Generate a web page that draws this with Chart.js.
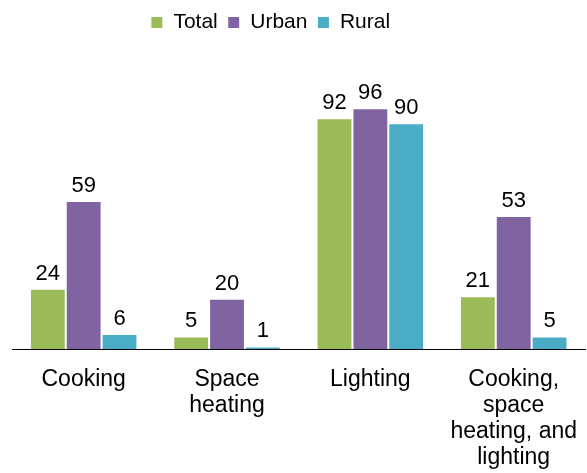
<!DOCTYPE html>
<html>
<head>
<meta charset="utf-8">
<script src="https://cdn.jsdelivr.net/npm/chart.js@4"></script>
<style>
  html, body { margin: 0; padding: 0; background: #fff; }
  #wrap { width: 587px; height: 473px; }
</style>
</head>
<body>
<div id="wrap"><canvas id="chart"></canvas></div>
<script>
// categories (multi-line tick labels)
const categorias = [
  ['Cooking'],
  ['Space', 'heating'],
  ['Lighting'],
  ['Cooking,', 'space', 'heating, and', 'lighting']
];

// series values (%)
const valoresTotal = [24, 5, 92, 21];
const valoresUrban = [59, 20, 96, 53];
const valoresRural = [6, 1, 90, 5];

const corTotal = '#9BBB59';
const corUrban = '#8064A2';
const corRural = '#4BACC6';

const fonte = "'Liberation Sans', Arial, sans-serif";

// value labels above each bar
const pluginRotulos = {
  id: 'rotulos',
  afterDatasetsDraw: (chart) => {
    const { ctx } = chart;
    ctx.save();
    ctx.font = '22px ' + fonte;
    ctx.fillStyle = '#000';
    ctx.textAlign = 'center';
    ctx.textBaseline = 'alphabetic';
    chart.data.datasets.forEach((ds, i) => {
      const meta = chart.getDatasetMeta(i);
      meta.data.forEach((bar, j) => {
        ctx.fillText(String(ds.data[j]), bar.x, bar.y - 9);
      });
    });
    ctx.restore();
  }
};

// nudge legend a bit left, like the original
const pluginLegenda = {
  id: 'legendaDesloc',
  afterLayout: (chart) => {
    if (chart.legend) {
      chart.legend.left -= 29;
      chart.legend.right -= 29;
    }
  }
};

const ctx = document.getElementById('chart').getContext('2d');
new Chart(ctx, {
  type: 'bar',
  data: {
    labels: categorias,
    datasets: [
      { label: 'Total', data: valoresTotal, backgroundColor: corTotal },
      { label: 'Urban', data: valoresUrban, backgroundColor: corUrban },
      { label: 'Rural', data: valoresRural, backgroundColor: corRural }
    ].map(d => Object.assign(d, {
      borderColor: '#fff',
      borderWidth: 1,
      categoryPercentage: 0.75,
      barPercentage: 1
    }))
  },
  options: {
    responsive: true,
    maintainAspectRatio: false,
    animation: false,
    layout: { padding: { left: 12, right: 0, top: 2, bottom: 0 } },
    plugins: {
      legend: {
        position: 'top',
        labels: {
          boxWidth: 12,
          boxHeight: 12,
          padding: 10,
          color: '#000',
          font: { family: fonte, size: 21 }
        }
      },
      tooltip: { enabled: false }
    },
    scales: {
      x: {
        grid: { display: false },
        border: { display: true, color: '#000', width: 1 },
        afterFit: (scale) => { scale.height = 124; },
        ticks: {
          color: '#000',
          padding: 10,
          maxRotation: 0,
          autoSkip: false,
          font: { family: fonte, size: 23, lineHeight: 1.13 }
        }
      },
      y: {
        display: false,
        min: 0,
        max: 122
      }
    }
  },
  plugins: [pluginRotulos, pluginLegenda]
});
</script>
</body>
</html>
